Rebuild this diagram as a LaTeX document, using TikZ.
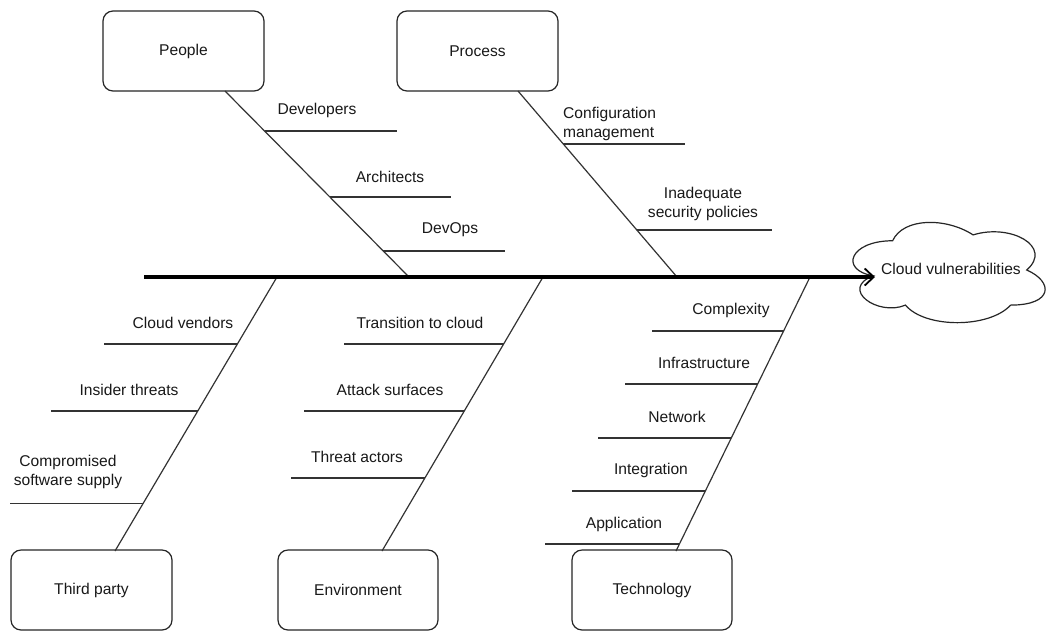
\documentclass[tikz,border=0pt]{standalone}
\usepackage{fontspec}
\setmainfont{Liberation Sans}
\usetikzlibrary{calc,arrows.meta}
\begin{document}
\begin{tikzpicture}[x=1pt,y=-1pt,
  every node/.style={font=\fontsize{15.6}{19}\selectfont, text=black!90, inner sep=0pt},
  catbox/.style={draw=black!85, line width=1.2pt, rounded corners=10pt, minimum width=161pt, minimum height=80pt, fill=white},
  bone/.style={draw=black!80, line width=1.2pt},
  twig/.style={draw=black!80, line width=1.2pt},
  spine/.style={draw=black, line width=4pt, -{Straight Barb[length=9pt,width=17pt,line width=1.8pt]}},
  lbl/.style={align=center},
  lbll/.style={align=left}]

\useasboundingbox (0,0) rectangle (1049,630);
\fill[white] (0,0) rectangle (1049,630);

% category boxes
\node[catbox] (people) at (183.5,51) {People};
\node[catbox] (process) at (477.5,51) {Process};
\node[catbox] (third) at (91.5,590) {Third party};
\node[catbox, minimum width=160pt] (env) at (358,590) {Environment};
\node[catbox, minimum width=160pt] (tech) at (652,590) {Technology};

% effect cloud
\path[draw=black!85, line width=1.2pt, fill=white]
  (892.6,240.75)
  .. controls (849.7,240.75) and (839,270) .. (873.3,275.85)
  .. controls (839,288.7) and (877.6,316.8) .. (905.5,305.1)
  .. controls (924.8,328.5) and (989.2,328.5) .. (1010.6,305.1)
  .. controls (1053.5,305.1) and (1053.5,281.7) .. (1026.7,270)
  .. controls (1053.5,246.6) and (1010.6,223.2) .. (973.1,234.9)
  .. controls (946.25,217.35) and (903.35,217.35) .. (892.6,240.75) -- cycle;
\node (cloud) at (951,269) {Cloud vulnerabilities};

% spine
\coordinate (spineL) at (144,277);
\coordinate (cloudin) at (875,277);

% bone ends on the spine and on the boxes
\coordinate (pS) at (409,277);  \coordinate (pB) at (225,91);
\coordinate (rS) at (677,277);  \coordinate (rB) at (518,91);
\coordinate (tS) at (277,277);  \coordinate (tB) at (115,551);
\coordinate (eS) at (543,277);  \coordinate (eB) at (382,551);
\coordinate (cS) at (810,277);  \coordinate (cB) at (676,551);

\draw[bone] (pS) -- (pB);
\draw[bone] (rS) -- (rB);
\draw[bone] (tS) -- (tB);
\draw[bone] (eS) -- (eB);
\draw[bone] (cS) -- (cB);

% People causes
\coordinate (p1) at ($(pS)!0.785!(pB)$);  \coordinate (p1e) at (397,0);
\coordinate (p2) at ($(pS)!0.430!(pB)$);  \coordinate (p2e) at (451,0);
\coordinate (p3) at ($(pS)!0.140!(pB)$);  \coordinate (p3e) at (505,0);
\draw[twig] (p1) -- (p1 -| p1e);
\draw[twig] (p2) -- (p2 -| p2e);
\draw[twig] (p3) -- (p3 -| p3e);
\node[lbl] (devs) at (317,110) {Developers};
\node[lbl] (arch) at (390,177) {Architects};
\node[lbl] (devops) at (450,230) {DevOps};

% Process causes
\coordinate (r1) at ($(rS)!0.715!(rB)$);  \coordinate (r1e) at (685,0);
\coordinate (r2) at ($(rS)!0.253!(rB)$);  \coordinate (r2e) at (772,0);
\draw[twig] (r1) -- (r1 -| r1e);
\draw[twig] (r2) -- (r2 -| r2e);
\node[lbll, anchor=west] (conf) at (563,123.5) {Configuration\\management};
\node[lbl] (policy) at (703,203.5) {Inadequate\\security policies};

% Third party causes
\coordinate (t1) at ($(tS)!0.2445!(tB)$); \coordinate (t1e) at (104,0);
\coordinate (t2) at ($(tS)!0.489!(tB)$);  \coordinate (t2e) at (51,0);
\coordinate (t3) at ($(tS)!0.828!(tB)$);  \coordinate (t3e) at (10,0);
\draw[twig] (t1) -- (t1 -| t1e);
\draw[twig] (t2) -- (t2 -| t2e);
\draw[twig] (t3) -- (t3 -| t3e);
\node[lbl] (vendors) at (183,323) {Cloud vendors};
\node[lbl] (insider) at (129,390) {Insider threats};
\node[lbl] (supply) at (68,471.5) {Compromised\\software supply};

% Environment causes
\coordinate (e1) at ($(eS)!0.2445!(eB)$); \coordinate (e1e) at (344,0);
\coordinate (e2) at ($(eS)!0.489!(eB)$);  \coordinate (e2e) at (304,0);
\coordinate (e3) at ($(eS)!0.7336!(eB)$); \coordinate (e3e) at (291,0);
\draw[twig] (e1) -- (e1 -| e1e);
\draw[twig] (e2) -- (e2 -| e2e);
\draw[twig] (e3) -- (e3 -| e3e);
\node[lbl] (transition) at (420,323) {Transition to cloud};
\node[lbl] (attack) at (390,390) {Attack surfaces};
\node[lbl] (actors) at (357,457) {Threat actors};

% Technology causes
\coordinate (c1) at ($(cS)!0.197!(cB)$);  \coordinate (c1e) at (652,0);
\coordinate (c2) at ($(cS)!0.3905!(cB)$); \coordinate (c2e) at (625,0);
\coordinate (c3) at ($(cS)!0.5876!(cB)$); \coordinate (c3e) at (598,0);
\coordinate (c4) at ($(cS)!0.781!(cB)$);  \coordinate (c4e) at (572,0);
\coordinate (c5) at ($(cS)!0.9745!(cB)$); \coordinate (c5e) at (545,0);
\draw[twig] (c1) -- (c1 -| c1e);
\draw[twig] (c2) -- (c2 -| c2e);
\draw[twig] (c3) -- (c3 -| c3e);
\draw[twig] (c4) -- (c4 -| c4e);
\draw[twig] (c5) -- (c5 -| c5e);
\node[lbl] (complex) at (731,310) {Complexity};
\node[lbl] (infra) at (704,363) {Infrastructure};
\node[lbl] (network) at (677,417) {Network};
\node[lbl] (integr) at (651,470) {Integration};
\node[lbl] (appl) at (624,524) {Application};

% main spine into the effect
\draw[spine] (spineL) -- (cloudin);
\end{tikzpicture}
\end{document}
